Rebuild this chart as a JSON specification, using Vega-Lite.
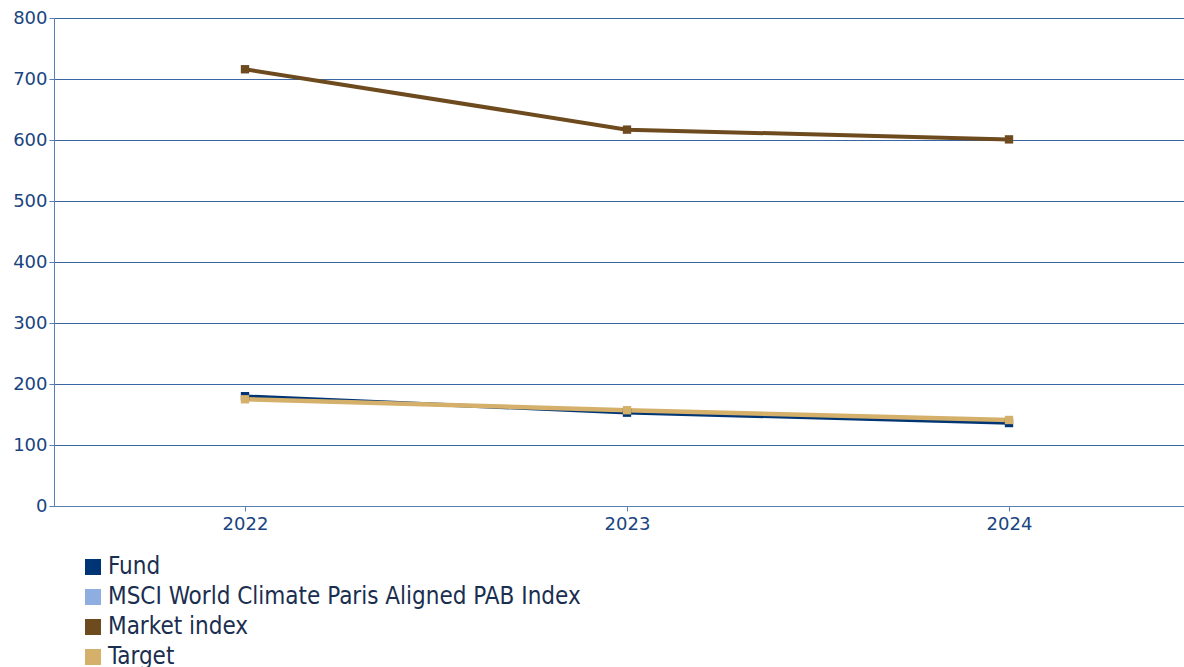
{
  "$schema": "https://vega.github.io/schema/vega-lite/v6.json",
  "width": 1146,
  "height": 488,
  "autosize": {"type": "none"},
  "padding": {"left": 54, "top": 18, "right": 0, "bottom": 161},
  "background": "white",
  "config": {
    "view": {"stroke": null},
    "font": "DejaVu Sans"
  },
  "data": {
    "values": [
      {"year": "2022", "series": "Fund", "value": 180},
      {"year": "2023", "series": "Fund", "value": 153},
      {"year": "2024", "series": "Fund", "value": 136},
      {"year": "2022", "series": "Market index", "value": 716},
      {"year": "2023", "series": "Market index", "value": 617},
      {"year": "2024", "series": "Market index", "value": 601},
      {"year": "2022", "series": "Target", "value": 175},
      {"year": "2023", "series": "Target", "value": 157},
      {"year": "2024", "series": "Target", "value": 141}
    ]
  },
  "encoding": {
    "x": {
      "field": "year", "type": "ordinal",
      "scale": {"type": "point", "padding": 0.5},
      "axis": {
        "title": null, "labelAngle": 0, "labelFontSize": 18, "labelColor": "#1a4480",
        "labelFont": "DejaVu Sans",
        "labelPadding": 4, "tickColor": "#5b7fb0", "tickSize": 5, "domainColor": "#5b7fb0",
        "domainWidth": 1, "grid": false
      }
    },
    "y": {
      "field": "value", "type": "quantitative",
      "scale": {"domain": [0, 800], "nice": false},
      "axis": {
        "title": null, "values": [0,100,200,300,400,500,600,700,800],
        "labelFontSize": 18, "labelColor": "#1a4480", "labelPadding": 2,
        "labelFont": "DejaVu Sans",
        "tickColor": "#5b7fb0", "tickSize": 5, "domainColor": "#5b7fb0",
        "gridColor": "#3a66a3", "gridWidth": 1, "gridOpacity": 1
      }
    },
    "color": {
      "field": "series", "type": "nominal",
      "scale": {
        "domain": ["Fund", "MSCI World Climate Paris Aligned PAB Index", "Market index", "Target"],
        "range": ["#003575", "#8eaee0", "#6e4a1f", "#d4b06a"]
      },
      "legend": {
        "title": null, "orient": "none", "legendX": 27, "legendY": 537,
        "symbolType": "square", "symbolSize": 256, "symbolStrokeWidth": 0,
        "symbolOpacity": 1, "labelFontSize": 24, "labelColor": "#1a2e4f",
        "labelFont": "DejaVu Sans Condensed", "labelLimit": 0,
        "rowPadding": 6, "labelOffset": 3, "direction": "vertical"
      }
    }
  },
  "layer": [
    {
      "mark": {"type": "line"},
      "encoding": {
        "size": {
          "field": "series", "type": "nominal",
          "scale": {"domain": ["Fund", "Market index", "Target"], "range": [3.5, 4.5, 5]},
          "legend": null
        },
        "order": {"field": "series"}
      }
    },
    {
      "mark": {"type": "point", "shape": "square", "filled": true, "size": 70, "opacity": 1}
    }
  ]
}
